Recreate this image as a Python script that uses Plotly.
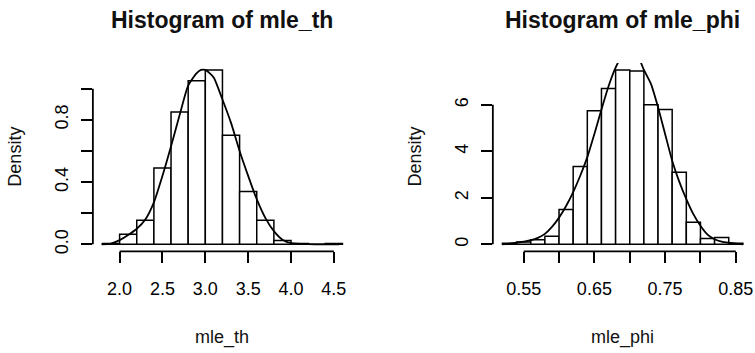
import plotly.graph_objects as go

W, H = 755, 353

# ---------------- data ----------------
th_breaks = [1.8, 2.0, 2.2, 2.4, 2.6, 2.8, 3.0, 3.2, 3.4, 3.6, 3.8, 4.0, 4.2, 4.4, 4.6]
th_density = [0.005, 0.065, 0.155, 0.49, 0.85, 1.05, 1.12, 0.70, 0.34, 0.155, 0.025, 0.005, 0.0, 0.005]
th_kde_x = [1.79, 1.9, 2.0, 2.1, 2.2, 2.3, 2.4, 2.5, 2.6, 2.7, 2.8, 2.9, 2.95, 3.0, 3.05,
            3.1, 3.2, 3.3, 3.4, 3.5, 3.6, 3.7, 3.8, 3.9, 4.0, 4.2, 4.4, 4.56]
th_kde_y = [0.0, 0.005, 0.027, 0.06, 0.10, 0.16, 0.27, 0.44, 0.63, 0.83, 1.02, 1.10, 1.12, 1.12, 1.10,
            1.07, 0.93, 0.78, 0.60, 0.44, 0.29, 0.17, 0.085, 0.03, 0.008, 0.002, 0.0, 0.0]
th_xticks = [2.0, 2.5, 3.0, 3.5, 4.0, 4.5]
th_xlabels = ["2.0", "2.5", "3.0", "3.5", "4.0", "4.5"]
th_yticks = [0.0, 0.2, 0.4, 0.6, 0.8, 1.0]
th_ylabels = ["0.0", "", "0.4", "", "0.8", ""]

phi_breaks = [0.52, 0.54, 0.56, 0.58, 0.60, 0.62, 0.64, 0.66, 0.68, 0.70, 0.72, 0.74,
              0.76, 0.78, 0.80, 0.82, 0.84, 0.86]
phi_density = [0.05, 0.1, 0.2, 0.35, 1.5, 3.35, 5.75, 6.7, 7.5, 7.45, 6.0, 5.8, 3.1, 0.95, 0.25, 0.3, 0.05]
phi_kde_x = [0.52, 0.53, 0.54, 0.55, 0.56, 0.57, 0.58, 0.59, 0.60, 0.61, 0.62, 0.63, 0.64, 0.65,
             0.66, 0.67, 0.68, 0.69, 0.70, 0.71, 0.72, 0.73, 0.74, 0.75, 0.76, 0.77, 0.78, 0.79,
             0.80, 0.81, 0.82, 0.83, 0.84, 0.85, 0.86]
phi_kde_y = [0.0, 0.03, 0.07, 0.12, 0.18, 0.28, 0.45, 0.75, 1.15, 1.65, 2.25, 2.95, 3.75, 4.75,
             5.8, 6.8, 7.6, 8.15, 8.4, 8.2, 7.5, 6.9, 5.9, 4.75, 3.6, 2.7, 1.95, 1.3,
             0.8, 0.42, 0.22, 0.12, 0.07, 0.03, 0.0]
phi_xticks = [0.55, 0.60, 0.65, 0.70, 0.75, 0.80, 0.85]
phi_xlabels = ["0.55", "", "0.65", "", "0.75", "", "0.85"]
phi_yticks = [0, 2, 4, 6]
phi_ylabels = ["0", "2", "4", "6"]

titles = ["Histogram of mle_th", "Histogram of mle_phi"]
xtitles = ["mle_th", "mle_phi"]
ytitle = "Density"

# ---------------- layout geometry (pixels) ----------------
plot_top, plot_bot = 63.5, 253.5
panels_px = [(93.0, 352.5), (493.5, 753.5)]


def px_x(p):
    return p / W


def px_y(p):
    return 1 - p / H


FONT = "Liberation Sans, Arial, Helvetica, sans-serif"
LW = 1.8

fig = go.Figure()
panels = [
    (th_breaks, th_density, th_kde_x, th_kde_y, th_xticks, th_xlabels, th_yticks, th_ylabels),
    (phi_breaks, phi_density, phi_kde_x, phi_kde_y, phi_xticks, phi_xlabels, phi_yticks, phi_ylabels),
]

shapes = []
annotations = []
for i, (br, dens, kx, ky, xt, xl, yt, yl) in enumerate(panels):
    xa = "x" if i == 0 else "x2"
    ya = "y" if i == 0 else "y2"
    centers = [(br[j] + br[j + 1]) / 2 for j in range(len(dens))]
    widths = [br[j + 1] - br[j] for j in range(len(dens))]
    fig.add_trace(go.Bar(x=centers, y=dens, width=widths,
                         marker=dict(color="white", line=dict(color="black", width=1.5)),
                         xaxis=xa, yaxis=ya, showlegend=False, hoverinfo="skip"))
    fig.add_trace(go.Scatter(x=kx, y=ky, mode="lines",
                             line=dict(color="black", width=LW, shape="spline", smoothing=0.6),
                             xaxis=xa, yaxis=ya, showlegend=False, hoverinfo="skip"))

    # R style ranges: 4% extension
    xr = br[-1] - br[0]
    xrange = [br[0] - 0.04 * xr, br[-1] + 0.04 * xr]
    ymax = max(dens)
    yrange = [-0.04 * ymax, 1.04 * ymax]

    l, r = panels_px[i]
    dom_x = [px_x(l), px_x(r)]
    dom_y = [px_y(plot_bot), px_y(plot_top)]
    sfx = "" if i == 0 else "2"
    common = dict(showgrid=False, zeroline=False, showline=False, ticks="outside",
                  ticklen=11, tickwidth=LW, tickcolor="black",
                  tickfont=dict(family=FONT, size=18, color="black"))
    fig.layout["xaxis" + sfx] = dict(domain=dom_x, range=xrange, tickvals=xt, ticktext=xl,
                                      anchor=ya, ticklabelstandoff=10, **common)
    fig.layout["yaxis" + sfx] = dict(domain=dom_y, range=yrange, tickvals=yt, ticktext=yl,
                                      anchor=xa, tickangle=-90, ticklabelstandoff=6, **common)

    xref_dom = xa + " domain"
    yref_dom = ya + " domain"
    shapes.append(dict(type="line", xref=xa, yref=yref_dom, x0=xt[0], x1=xt[-1], y0=0, y1=0,
                       line=dict(color="black", width=LW)))
    shapes.append(dict(type="line", xref=xref_dom, yref=ya, x0=0, x1=0, y0=yt[0], y1=yt[-1],
                       line=dict(color="black", width=LW)))

    cx = (l + r) / 2
    annotations.append(dict(text="<b>" + titles[i] + "</b>", x=px_x(cx), y=px_y(20.5),
                            xref="paper", yref="paper", showarrow=False,
                            xanchor="center", yanchor="middle",
                            font=dict(family=FONT, size=23, color="#111")))
    annotations.append(dict(text=xtitles[i], x=px_x(cx), y=px_y(340.5),
                            xref="paper", yref="paper", showarrow=False,
                            xanchor="center", yanchor="middle",
                            font=dict(family=FONT, size=18, color="#111")))
    annotations.append(dict(text=ytitle, x=px_x(l - 77.5), y=px_y((plot_top + plot_bot) / 2 - 1),
                            xref="paper", yref="paper", showarrow=False, textangle=-90,
                            xanchor="center", yanchor="middle",
                            font=dict(family=FONT, size=18, color="#111")))

fig.update_layout(width=W, height=H, margin=dict(l=0, r=0, t=0, b=0),
                  paper_bgcolor="white", plot_bgcolor="white",
                  shapes=shapes, annotations=annotations, barmode="overlay")

fig.write_html("out.html")
